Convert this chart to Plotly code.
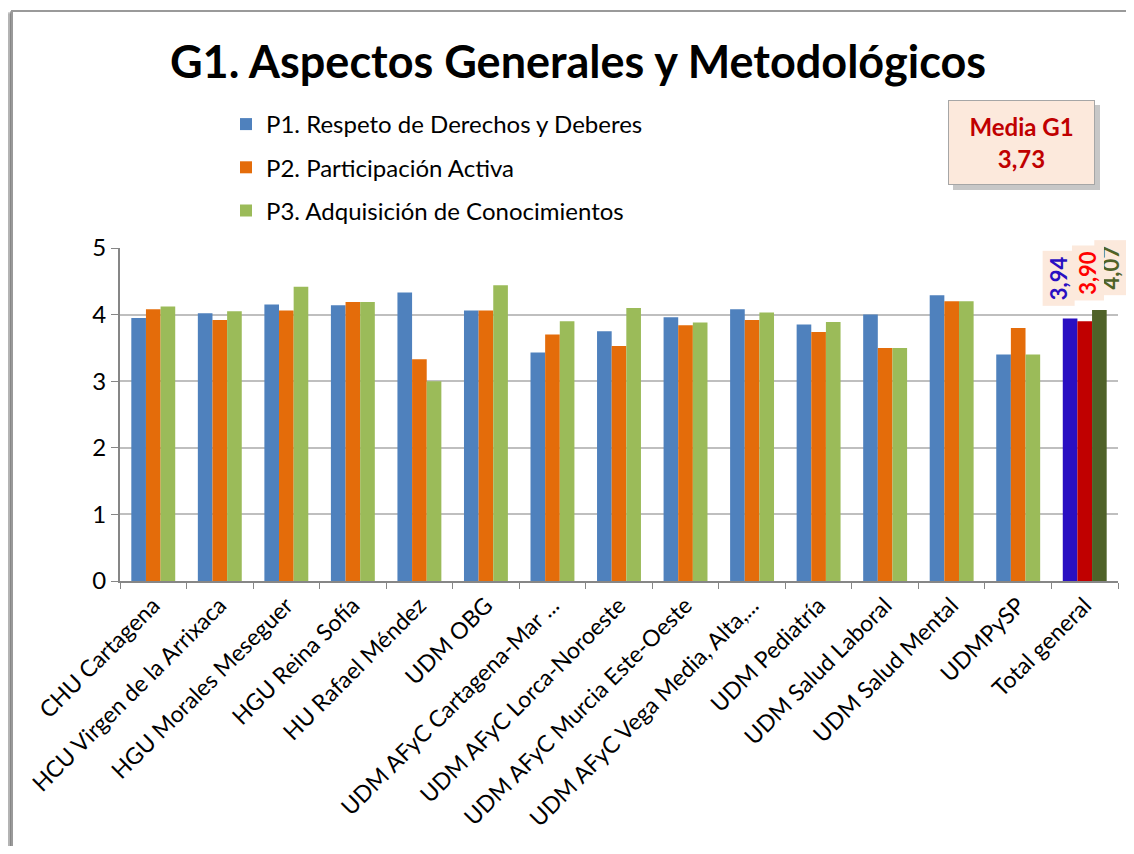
import plotly.graph_objects as go

categories = [
    "CHU Cartagena", "HCU Virgen de la Arrixaca", "HGU Morales Meseguer",
    "HGU Reina Sofía", "HU Rafael Méndez", "UDM OBG",
    "UDM AFyC Cartagena-Mar ...", "UDM AFyC Lorca-Noroeste",
    "UDM AFyC Murcia Este-Oeste", "UDM AFyC Vega Media, Alta,...",
    "UDM Pediatría", "UDM Salud Laboral", "UDM Salud Mental", "UDMPySP",
    "Total general",
]
p1 = [3.95, 4.02, 4.15, 4.14, 4.33, 4.06, 3.43, 3.75, 3.96, 4.08, 3.85, 4.00, 4.29, 3.40, 3.94]
p2 = [4.08, 3.92, 4.06, 4.19, 3.33, 4.06, 3.70, 3.53, 3.84, 3.92, 3.74, 3.50, 4.20, 3.80, 3.90]
p3 = [4.12, 4.05, 4.42, 4.19, 3.00, 4.44, 3.90, 4.10, 3.88, 4.03, 3.89, 3.50, 4.20, 3.40, 4.07]
series_names = ["P1. Respeto de Derechos y Deberes", "P2. Participación Activa",
                "P3. Adquisición de Conocimientos"]
total_labels = ["3,94", "3,90", "4,07"]
media_label = "Media G1<br>3,73"

base_colors = ["#4F81BD", "#E46C0A", "#9BBB59"]
total_colors = ["#2A0FC2", "#C00000", "#4F6228"]
label_colors = ["#2A0FC2", "#FF0000", "#4F6228"]

FONT = "Lato, 'Open Sans', sans-serif"

# page body has an 8px margin; figure is sized to fit the window
OFF = 8
W, H = 1134 - 2 * OFF, 854 - 2 * OFF
PL, PR, PT, PB = 120, 1118, 248, 581  # plot area in screen pixels

fig = go.Figure()
for i, (name, vals) in enumerate(zip(series_names, [p1, p2, p3])):
    colors = [base_colors[i]] * (len(categories) - 1) + [total_colors[i]]
    fig.add_trace(go.Bar(
        x=categories, y=vals, name=name, legendgroup=f"g{i}",
        marker=dict(color=colors, line=dict(width=0)),
    ))

# Total general value labels (drawn blue, green, red so red sits on top)
xshifts = [-26, 3, 26]
yshifts = [40, 48, 42]
total_vals = [p1[-1], p2[-1], p3[-1]]
for i in [0, 2, 1]:
    fig.add_annotation(
        x=categories[-1], y=total_vals[i], xref="x", yref="y",
        text=f"<b>{total_labels[i]}</b>", textangle=-90, showarrow=False,
        xshift=xshifts[i], yshift=yshifts[i],
        font=dict(family=FONT, size=22, color=label_colors[i]),
        bgcolor="#FCE9DC", borderpad=0, width=54, height=31,
    )


def px_x(px):
    return (px - PL) / float(PR - PL)


def px_y(py):
    return (PB - py) / float(PB - PT)


# Media box (shadow + box)
fig.add_shape(type="rect", xref="paper", yref="paper",
              x0=px_x(953), x1=px_x(1100), y0=px_y(190), y1=px_y(105),
              fillcolor="rgba(0,0,0,0.22)", line=dict(width=0), layer="above")
fig.add_annotation(
    x=px_x(1021.5), y=px_y(142.5), xref="paper", yref="paper",
    text=f"<b>{media_label}</b>", showarrow=False,
    font=dict(family=FONT, size=24, color="#C00000"),
    bgcolor="#FCE9DC", bordercolor="#A6A6A6", borderwidth=1,
    width=143, height=81, xanchor="center", yanchor="middle",
)

# Outer chart border with left shadow
for k, op in enumerate([0.06, 0.1, 0.16, 0.25]):
    fig.add_shape(type="rect", xref="paper", yref="paper",
                  x0=px_x(12 - 8 + 2 * k), x1=px_x(12), y0=-1, y1=px_y(14 - k),
                  fillcolor=f"rgba(0,0,0,{op})", line=dict(width=0), layer="below")
fig.add_shape(type="rect", xref="paper", yref="paper",
              x0=px_x(12), x1=px_x(1145), y0=-1, y1=px_y(11),
              line=dict(color="#9A9A9A", width=2), fillcolor="white", layer="below")

fig.update_layout(
    width=W, height=H,
    margin=dict(l=PL - OFF, r=W - (PR - OFF), t=PT - OFF, b=H - (PB - OFF), pad=0,
                autoexpand=False),
    paper_bgcolor="white", plot_bgcolor="rgba(0,0,0,0)",
    barmode="group", bargap=0.34, bargroupgap=0,
    font=dict(family=FONT, size=20, color="#000000"),
    title=dict(text="<b>G1. Aspectos Generales y Metodológicos</b>",
               x=(578 - OFF) / W, xanchor="center", xref="container",
               y=1 - (62 - OFF) / H, yanchor="middle", yref="container",
               font=dict(family=FONT, size=45, color="#000000")),
    legend=dict(x=px_x(226), y=px_y(102), xanchor="left", yanchor="top",
                font=dict(family=FONT, size=24, color="#000000"),
                tracegroupgap=9, bgcolor="rgba(0,0,0,0)"),
    showlegend=True,
)
fig.update_yaxes(range=[0, 5], dtick=1, showgrid=True, gridcolor="#BFBFBF", gridwidth=2,
                 showline=True, linecolor="#868686", linewidth=2,
                 ticks="outside", ticklen=7, tickcolor="#868686", automargin=False,
                 tickfont=dict(family=FONT, size=24), zeroline=False)
fig.update_xaxes(range=[-0.5, len(categories) - 0.5],
                 showline=True, linecolor="#868686", linewidth=2, automargin=False,
                 ticks="outside", ticklen=6, tickcolor="#868686", tickson="boundaries",
                 tickangle=-45, tickfont=dict(family=FONT, size=23))

fig.write_html("out.html")
